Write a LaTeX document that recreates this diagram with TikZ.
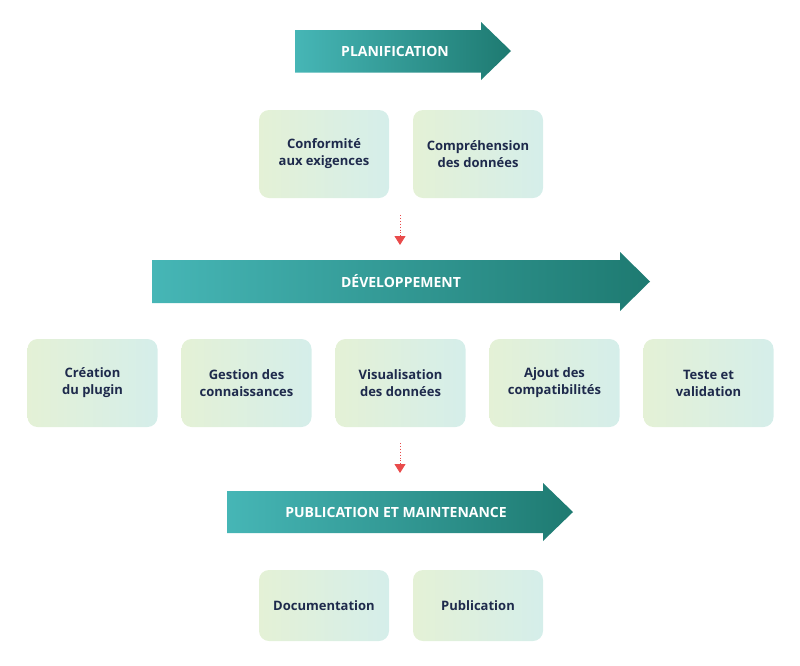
\documentclass[tikz,border=0pt]{standalone}
\usepackage{fontspec}
\setmainfont{Open Sans}
\usetikzlibrary{arrows.meta}
\definecolor{teallt}{HTML}{46B6B6}
\definecolor{tealdk}{HTML}{1E7A71}
\definecolor{boxl}{HTML}{E4F1D6}
\definecolor{boxr}{HTML}{D5EEEA}
\definecolor{navy}{HTML}{1E2A4C}
\definecolor{redarr}{HTML}{E94B4B}
\tikzset{
  box/.style={rounded corners=10pt, minimum width=130pt, minimum height=88pt,
    left color=boxl, right color=boxr, draw=none, align=center,
    text=navy, font=\fontsize{13}{17}\selectfont\bfseries, inner sep=0pt},
  shortbox/.style={box, minimum height=71pt},
  arrowtext/.style={text=white, font=\fontsize{14}{16}\selectfont\bfseries},
  redlink/.style={draw=redarr, dotted, line width=0.9pt, -{Triangle[length=9pt,width=11pt]}}
}
\begin{document}
\begin{tikzpicture}[x=1pt,y=-1pt]
\useasboundingbox (0,0) rectangle (800,665);
% Arrow 1
\shade[left color=teallt, right color=tealdk]
  (295,30) -- (481,30) -- (481,22) -- (511,51) -- (481,80) -- (481,72.5) -- (295,72.5) -- cycle;
\node[arrowtext] (plan) at (395,51) {PLANIFICATION};
% Arrow 2
\shade[left color=teallt, right color=tealdk]
  (152,260) -- (620,260) -- (620,252) -- (650,281.5) -- (620,311) -- (620,303) -- (152,303) -- cycle;
\node[arrowtext] (dev) at (401,281.5) {DÉVELOPPEMENT};
% Arrow 3
\shade[left color=teallt, right color=tealdk]
  (227,491) -- (543,491) -- (543,483) -- (573,512) -- (543,541) -- (543,533) -- (227,533) -- cycle;
\node[arrowtext] (pub) at (396,512) {PUBLICATION ET MAINTENANCE};
% Row 1
\node[box] (b11) at (324,154) {Conformité\\aux exigences};
\node[box] (b12) at (478,154) {Compréhension\\des données};
% Row 2
\node[box] (b21) at (92.5,383) {Création\\du plugin};
\node[box] (b22) at (246.5,383) {Gestion des\\connaissances};
\node[box] (b23) at (400.5,383) {Visualisation\\des données};
\node[box] (b24) at (554.5,383) {Ajout des\\compatibilités};
\node[box] (b25) at (708.5,383) {Teste et\\validation};
% Row 3
\node[shortbox] (b31) at (324,605.5) {Documentation};
\node[shortbox] (b32) at (478,605.5) {Publication};
% red links
\coordinate (r1s) at (400,215);
\coordinate (r1e) at (400,245);
\coordinate (r2s) at (400,443);
\coordinate (r2e) at (400,473);
\draw[redlink] (r1s) -- (r1e);
\draw[redlink] (r2s) -- (r2e);
\end{tikzpicture}
\end{document}
